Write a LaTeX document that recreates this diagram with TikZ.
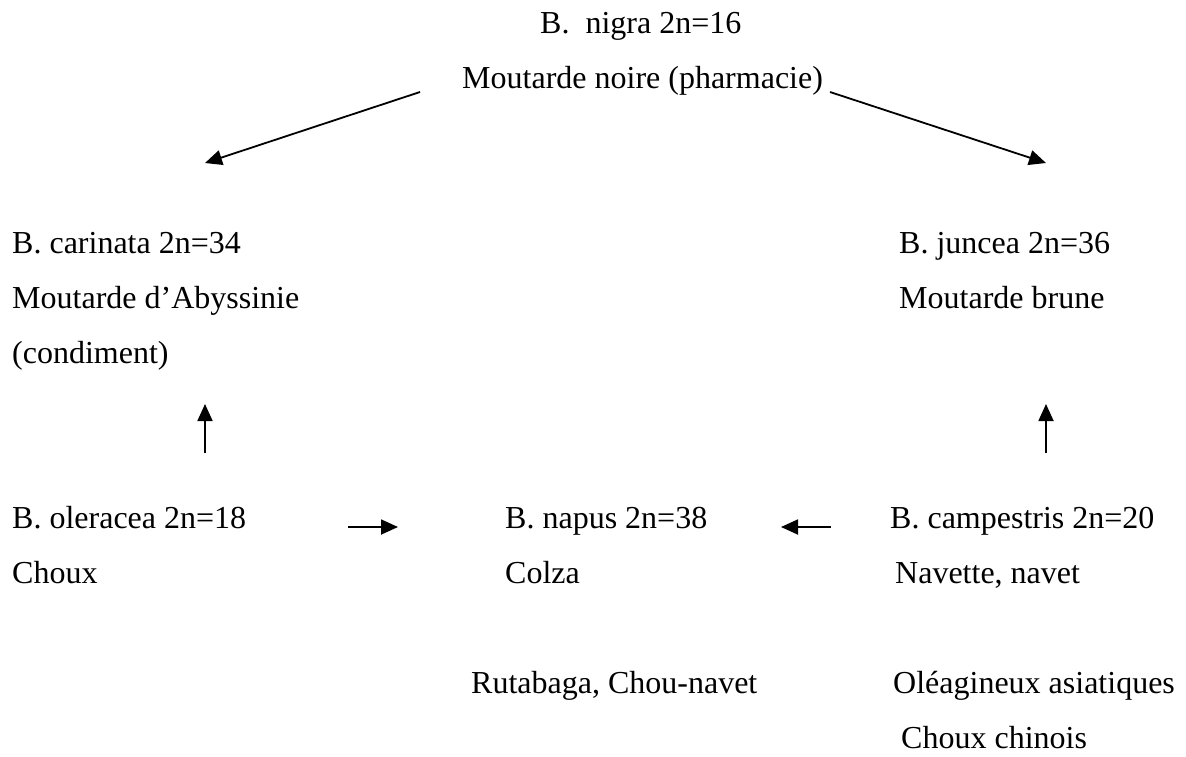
\documentclass[tikz,border=0pt]{standalone}
\usepackage{fontspec}
\setmainfont{Liberation Serif}
\usetikzlibrary{arrows.meta}
\begin{document}
\begin{tikzpicture}[x=1pt,y=-1pt,
  txt/.style={anchor=base west,inner sep=0pt,font=\fontsize{32}{38}\selectfont},
  arr/.style={line width=1.8pt,-{Triangle[length=17pt,width=15pt]}}]
\useasboundingbox (0,0) rectangle (1186,756);
% top
\node[txt] (nigra) at (540,33) {B.\ \ nigra 2n=16};
\node[txt] (noire) at (462,88) {Moutarde noire (pharmacie)};
% middle row
\node[txt] (carinata) at (12,253) {B. carinata 2n=34};
\node[txt] (abyss) at (12,308) {Moutarde d’Abyssinie};
\node[txt] (condiment) at (12,363) {(condiment)};
\node[txt] (juncea) at (899,253) {B. juncea 2n=36};
\node[txt] (brune) at (899,308) {Moutarde brune};
% bottom row
\node[txt] (oleracea) at (12,528) {B. oleracea 2n=18};
\node[txt] (choux) at (12,583) {Choux};
\node[txt] (napus) at (505,528) {B. napus 2n=38};
\node[txt] (colza) at (505,583) {Colza};
\node[txt] (campestris) at (890,528) {B. campestris 2n=20};
\node[txt] (navette) at (895,583) {Navette, navet};
\node[txt] (rutabaga) at (471,693) {Rutabaga, Chou-navet};
\node[txt] (oleag) at (893,693) {Oléagineux asiatiques};
\node[txt] (chinois) at (901,748) {Choux chinois};
% arrow end points
\coordinate (n1) at (420,92);
\coordinate (c1) at (205,163);
\coordinate (n2) at (830,92);
\coordinate (j1) at (1046,163);
\coordinate (o1) at (205,453);
\coordinate (o2) at (205,404);
\coordinate (p1) at (1046,453);
\coordinate (p2) at (1046,404);
\coordinate (or1) at (348,527);
\coordinate (or2) at (398,527);
\coordinate (cr1) at (831,527);
\coordinate (cr2) at (781,527);
% arrows
\draw[arr] (n1) -- (c1);
\draw[arr] (n2) -- (j1);
\draw[arr] (o1) -- (o2);
\draw[arr] (p1) -- (p2);
\draw[arr] (or1) -- (or2);
\draw[arr] (cr1) -- (cr2);
\end{tikzpicture}
\end{document}
